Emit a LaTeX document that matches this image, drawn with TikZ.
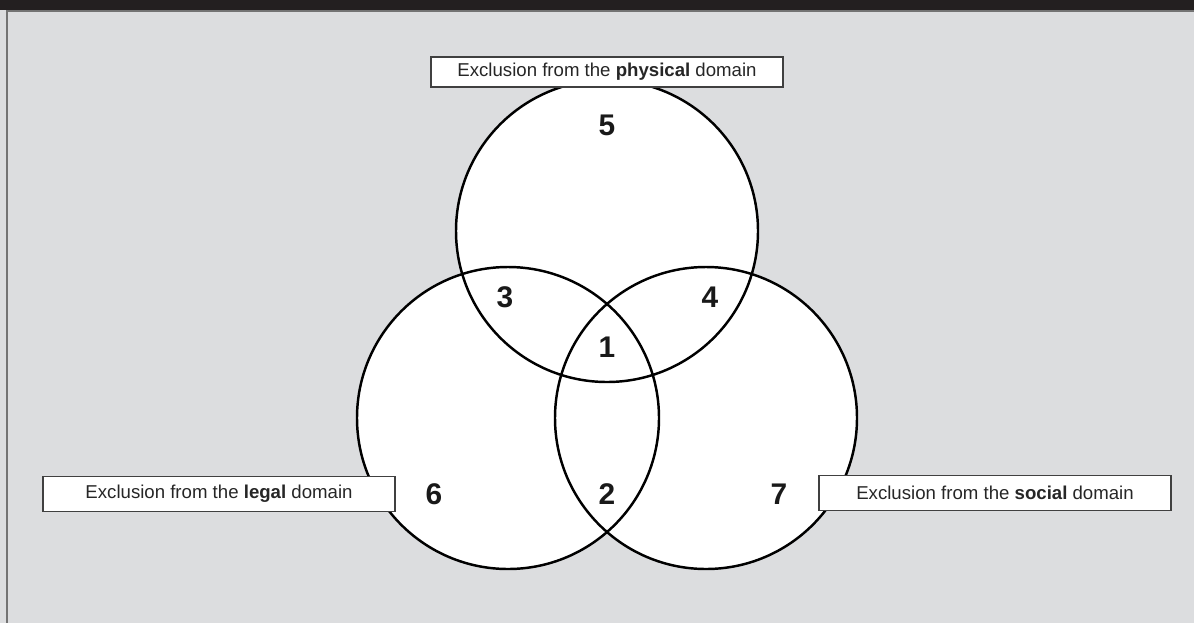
\documentclass[tikz,border=0pt]{standalone}
\usepackage{fontspec}
\setmainfont{Liberation Sans}
\definecolor{panel}{HTML}{DCDDDF}
\definecolor{band}{HTML}{231F20}

\begin{document}
\begin{tikzpicture}[x=0.02cm, y=-0.02cm,
                    domain_circle/.style={circle, fill=white, minimum size=6.04cm, inner sep=0pt},
                    domain_label/.style={draw=black!75, fill=white, line width=0.7pt, minimum width=7.04cm,
                                         inner sep=0pt, font=\fontsize{10.6}{12}\selectfont, text=black!85},
                    region/.style={font=\fontsize{17}{20}\selectfont\bfseries, text=black!90}]
                    \useasboundingbox (0,0) rectangle (1194,623);
                    \fill[panel] (0,0) rectangle (1194,623);
                    \fill[band] (0,0) rectangle (1194,10);
                    \draw[black!55, line width=1pt] (1194,11) -- (7,11) -- (7,623);
                    % the three domains
                    \node[domain_circle] (physical) at (607, 231) {};
                    \node[domain_circle] (legal) at (508, 418) {};
                    \node[domain_circle] (social) at (706, 418) {};
                    \foreach \c in {physical, legal, social}
                        \draw[line width=1.4pt] (\c.center) circle [radius=151];
                    % region numbers
                    \node[region] (r5) at (607, 125) {5};
                    \node[region] (r3) at (505, 297) {3};
                    \node[region] (r4) at (710, 297) {4};
                    \node[region] (r1) at (607, 347) {1};
                    \node[region] (r6) at (434, 494) {6};
                    \node[region] (r2) at (607, 494) {2};
                    \node[region] (r7) at (779, 494) {7};
                    % labels
                    \node[domain_label, minimum height=0.6cm] (physical_label) at (607, 72) {Exclusion from the \textbf{physical} domain};
                    \node[domain_label, minimum height=0.7cm] (legal_label) at (219, 494) {Exclusion from the \textbf{legal} domain};
                    \node[domain_label, minimum height=0.7cm] (social_label) at (995, 493) {Exclusion from the \textbf{social} domain};
                \end{tikzpicture}
\end{document}
